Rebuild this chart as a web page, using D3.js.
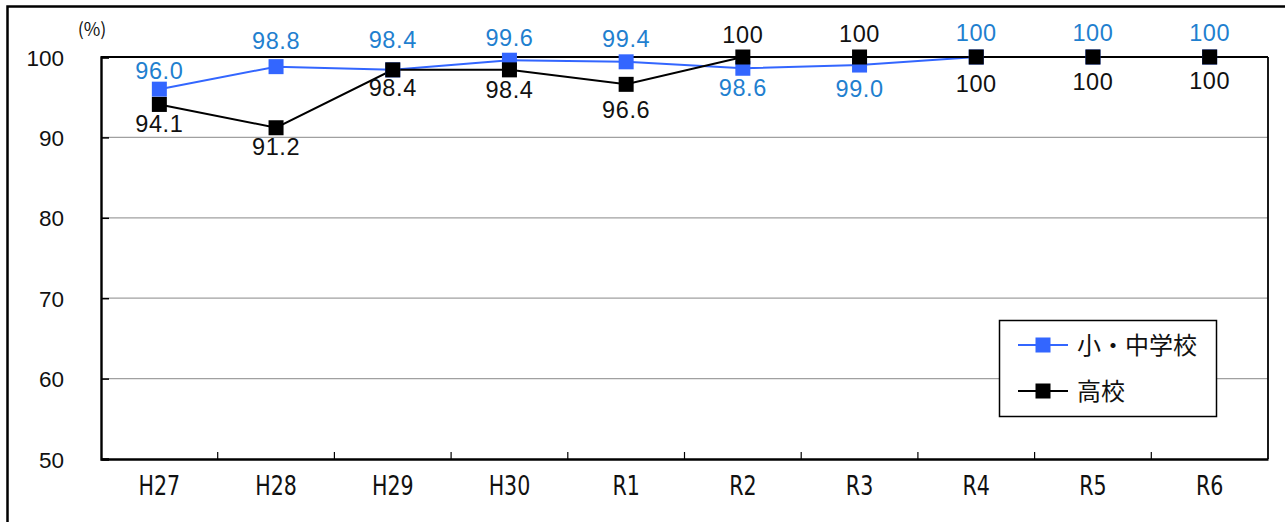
<!DOCTYPE html>
<html><head><meta charset="utf-8">
<script src="https://cdn.jsdelivr.net/npm/d3@7"></script>
<style>body{margin:0;background:#fff}svg{display:block}</style>
</head><body>
<svg id="chart" width="1285" height="522"></svg>
<script>
// ---- data ----
const categories = ["H27","H28","H29","H30","R1","R2","R3","R4","R5","R6"];
const elemJunior = [96.0, 98.8, 98.4, 99.6, 99.4, 98.6, 99.0, 100, 100, 100];
const highSchool = [94.1, 91.2, 98.4, 98.4, 96.6, 100, 100, 100, 100, 100];
const elemJuniorText = ["96.0","98.8","98.4","99.6","99.4","98.6","99.0","100","100","100"];
const highSchoolText = ["94.1","91.2","98.4","98.4","96.6","100","100","100","100","100"];
const yTicks = [50, 60, 70, 80, 90, 100];
const seriesNames = ["小・中学校", "高校"];

// ---- layout (label offsets in px, not data) ----
const elemJuniorDy = [-19, -26, -30, -23, -23, 19, 23, -24, -24, -24];
const highSchoolDy = [19, 19, 18, 20, 25, -22, -23, 27, 25, 24];

const svg = d3.select("#chart");
const L = 101, R = 1268, T = 57, B = 459;
const x = d3.scaleBand().domain(categories).range([L, R]);
const y = d3.scaleLinear().domain([50, 100]).range([B, T]);
const cx = c => x(c) + x.bandwidth() / 2;

// outer frame
svg.append("rect").attr("x", 7.5).attr("y", 6.5).attr("width", 1300).attr("height", 540)
  .attr("fill", "#fff").attr("stroke", "#000").attr("stroke-width", 2.5);

// grid lines
svg.append("g").selectAll("line").data(yTicks.filter(v => v > 50 && v < 100)).join("line")
  .attr("x1", L).attr("x2", R).attr("y1", d => y(d)).attr("y2", d => y(d))
  .attr("stroke", "#a0a0a0").attr("stroke-width", 1.2);

// plot frame (top & right)
svg.append("line").attr("x1", L).attr("x2", R).attr("y1", T).attr("y2", T).attr("stroke", "#000").attr("stroke-width", 1.8);
svg.append("line").attr("x1", R).attr("x2", R).attr("y1", T).attr("y2", B).attr("stroke", "#000").attr("stroke-width", 1.8);

// y axis
const yAxis = svg.append("g").attr("transform", `translate(${L},0)`)
  .call(d3.axisLeft(y).tickValues(yTicks).tickSize(-8).tickPadding(45).tickFormat(d3.format("d")));
yAxis.select(".domain").attr("stroke-width", 2.4);
yAxis.selectAll(".tick line").attr("stroke-width", 1.5);
yAxis.selectAll("text").attr("font-family", "'Liberation Sans', Arial, sans-serif").attr("font-size", 22.5)
  .attr("fill", "#111").attr("text-anchor", "end").attr("x", -37).attr("dy", "0.36em");

// x axis
const xAxis = svg.append("g").attr("transform", `translate(0,${B})`)
  .call(d3.axisBottom(x).tickSize(0).tickPadding(0));
xAxis.select(".domain").attr("stroke-width", 2.4);
xAxis.selectAll("text").attr("font-family", "'Liberation Sans Narrow','DejaVu Sans Condensed','Liberation Sans',sans-serif")
  .attr("font-size", 26).attr("fill", "#111").attr("y", 27).attr("dy", "0.36em")
  .attr("transform", "scale(0.88,1)");
// boundary ticks (inward)
const bounds = categories.slice(1).map(c => x(c));
svg.append("g").selectAll("line").data(bounds).join("line")
  .attr("x1", d => d).attr("x2", d => d).attr("y1", B).attr("y2", B - 7)
  .attr("stroke", "#000").attr("stroke-width", 1.2);

// (%) label
svg.append("text").attr("x", 92).attr("y", 30).attr("text-anchor", "middle").attr("dy", "0.35em")
  .attr("font-family", "'Noto Sans CJK JP',sans-serif").attr("font-size", 18).attr("fill", "#111").text("(%)");

// lines & markers
const series = [
  {vals: elemJunior, color: "#3366ff", mark: "#3366ff", text: elemJuniorText, dy: elemJuniorDy, tcol: "#1f80cf"},
  {vals: highSchool, color: "#000", mark: "#000", text: highSchoolText, dy: highSchoolDy, tcol: "#111"}
];
const line = d3.line().x((d, i) => cx(categories[i])).y(d => y(d));
const ms = 15;
series.forEach(s => {
  svg.append("path").datum(s.vals).attr("d", line).attr("fill", "none")
    .attr("stroke", s.color).attr("stroke-width", 2);
});
series.forEach(s => {
  svg.append("g").selectAll("rect").data(s.vals).join("rect")
    .attr("x", (d, i) => cx(categories[i]) - ms / 2).attr("y", d => y(d) - ms / 2)
    .attr("width", ms).attr("height", ms).attr("fill", s.mark);
});
series.forEach(s => {
  svg.append("g").selectAll("text").data(s.vals).join("text")
    .attr("x", (d, i) => cx(categories[i])).attr("y", (d, i) => y(d) + s.dy[i])
    .attr("dy", "0.36em").attr("text-anchor", "middle")
    .attr("font-family", "'Liberation Sans', Arial, sans-serif").attr("font-size", 23.5)
    .attr("letter-spacing", 0.6).attr("fill", s.tcol).text((d, i) => s.text[i]);
});

// legend
const lg = svg.append("g");
lg.append("rect").attr("x", 999.5).attr("y", 320.5).attr("width", 217).attr("height", 96)
  .attr("fill", "#fff").attr("stroke", "#000").attr("stroke-width", 1.5);
[345, 391].forEach((ly, k) => {
  const s = series[k];
  lg.append("line").attr("x1", 1018).attr("x2", 1068).attr("y1", ly).attr("y2", ly)
    .attr("stroke", s.color).attr("stroke-width", 2);
  lg.append("rect").attr("x", 1043 - ms / 2).attr("y", ly - ms / 2).attr("width", ms).attr("height", ms).attr("fill", s.mark);
  lg.append("text").attr("x", 1077).attr("y", ly).attr("dy", "0.36em")
    .attr("font-family", "'Noto Sans CJK JP',sans-serif").attr("font-size", 24).attr("fill", "#111")
    .text(seriesNames[k]);
});
</script>
</body></html>
